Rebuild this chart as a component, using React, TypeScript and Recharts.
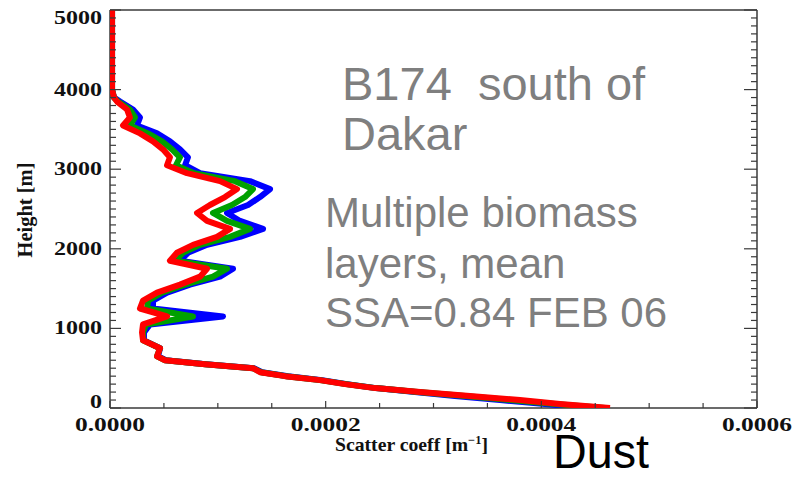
import { ScatterChart, Scatter, XAxis, YAxis } from 'recharts';

// height levels of the profile [m], top to bottom
const heights = [
  5000, 4500, 4000, 3900, 3850, 3750, 3650, 3550, 3450, 3350,
  3250, 3150, 3050, 2950, 2850, 2750, 2650, 2550, 2450, 2350,
  2250, 2150, 2050, 1950, 1850, 1750, 1650, 1550, 1450, 1350,
  1250, 1150, 1050, 950, 850, 750, 650, 600, 550, 500,
  450, 400, 350, 300, 250, 200, 150, 100, 50, 0,
];

// scatter coefficient [m^-1]
const blueCoeff = [
  1.9e-6, 1.9e-6, 1.9e-6, 3.7e-6, 9.3e-6, 21.3e-6, 27.8e-6, 25.0e-6, 43.6e-6, 55.6e-6,
  64.9e-6, 72.3e-6, 69.6e-6, 83.5e-6, 129.8e-6, 148.4e-6, 139.1e-6, 128.0e-6, 108.5e-6, 120.6e-6,
  141.9e-6, 120.6e-6, 90.0e-6, 72.3e-6, 64.9e-6, 114.1e-6, 102.0e-6, 74.2e-6, 52.9e-6, 39.9e-6,
  39.9e-6, 104.8e-6, 37.1e-6, 31.5e-6, 31.5e-6, 46.4e-6, 44.5e-6, 51.9e-6, 89.0e-6, 133.5e-6,
  141.0e-6, 165.1e-6, 196.6e-6, 219.8e-6, 246.7e-6, 282.8e-6, 319.9e-6, 361.7e-6, 403.4e-6, 445.1e-6,
];

const greenCoeff = [
  1.9e-6, 1.9e-6, 1.9e-6, 3.7e-6, 7.4e-6, 18.5e-6, 23.2e-6, 18.5e-6, 35.2e-6, 48.2e-6,
  57.5e-6, 64.9e-6, 61.2e-6, 77.9e-6, 115.9e-6, 132.6e-6, 125.2e-6, 113.1e-6, 95.5e-6, 108.5e-6,
  129.8e-6, 111.3e-6, 83.5e-6, 67.7e-6, 60.3e-6, 108.5e-6, 95.5e-6, 69.6e-6, 48.2e-6, 35.2e-6,
  34.3e-6, 77.0e-6, 33.4e-6, 30.6e-6, 30.6e-6, 46.4e-6, 43.6e-6, 51.0e-6, 88.1e-6, 132.6e-6,
  140.0e-6, 163.2e-6, 194.7e-6, 218.9e-6, 246.7e-6, 285.6e-6, 329.2e-6, 370.9e-6, 412.7e-6, 459.0e-6,
];

const redCoeff = [
  1.9e-6, 1.9e-6, 1.9e-6, 3.7e-6, 6.5e-6, 15.8e-6, 18.5e-6, 12.1e-6, 27.8e-6, 39.9e-6,
  49.1e-6, 55.6e-6, 52.9e-6, 71.4e-6, 102.0e-6, 117.8e-6, 106.6e-6, 92.7e-6, 80.7e-6, 90.0e-6,
  111.3e-6, 99.2e-6, 77.0e-6, 62.1e-6, 55.6e-6, 90.0e-6, 83.5e-6, 64.9e-6, 43.6e-6, 30.6e-6,
  27.8e-6, 52.9e-6, 30.6e-6, 29.7e-6, 30.6e-6, 46.4e-6, 43.6e-6, 51.0e-6, 88.1e-6, 132.6e-6,
  139.1e-6, 162.3e-6, 194.7e-6, 217.9e-6, 245.8e-6, 287.5e-6, 333.8e-6, 380.2e-6, 417.3e-6, 463.7e-6,
];

const xMajorTicks = [0, 0.0002, 0.0004, 0.0006];
const yMajorTicks = [0, 1000, 2000, 3000, 4000, 5000];
const xMinorStep = 0.00005;
const yMinorStep = 100;

const xTicks = Array.from({ length: 13 }, (_, i) => +(i * xMinorStep).toFixed(5));
const yTicks = Array.from({ length: 51 }, (_, i) => i * yMinorStep);

const toPoints = (vals: number[]) => vals.map((v, i) => ({ x: v, y: heights[i] }));

const AXIS = '#3a3a3a';
const SERIF = "'Liberation Serif', 'DejaVu Serif', serif";
const SANS = "'Liberation Sans', Arial, sans-serif";

const isMajorX = (v: number) => xMajorTicks.some((m) => Math.abs(m - v) < 1e-9);
const isMajorY = (v: number) => yMajorTicks.includes(v);

function LeftTick({ x, y, payload }: any) {
  const v = payload.value;
  const major = isMajorY(v);
  const shift = v === 5000 ? 8 : v === 0 ? -6 : 0; // edge labels sit inside
  return (
    <g>
      <line x1={x} x2={x + (major ? 11 : 6)} y1={y} y2={y} stroke={AXIS} strokeWidth={1.2} />
      {major && (
        <text x={x - 8} y={y + shift + 6} textAnchor="end" fontFamily={SERIF} fontWeight="bold"
          fontSize={19} fill="#111" textLength={String(v).length * 12} lengthAdjust="spacingAndGlyphs">
          {v}
        </text>
      )}
    </g>
  );
}

function BottomTick({ x, y, payload }: any) {
  const v = payload.value;
  const major = isMajorX(v);
  return (
    <g>
      <line x1={x} x2={x} y1={y} y2={y - (major ? 7 : 5)} stroke={AXIS} strokeWidth={1.2} />
      {major && (
        <text x={x} y={y + 23} textAnchor="middle" fontFamily={SERIF} fontWeight="bold"
          fontSize={18} fill="#111" textLength={70} lengthAdjust="spacingAndGlyphs">
          {v.toFixed(4)}
        </text>
      )}
    </g>
  );
}

function TopTick({ x, y, payload }: any) {
  const major = isMajorX(payload.value);
  return <line x1={x} x2={x} y1={y} y2={y + (major ? 7 : 5)} stroke={AXIS} strokeWidth={1.2} />;
}

function RightTick({ x, y, payload }: any) {
  const major = isMajorY(payload.value);
  return <line x1={x} x2={x - (major ? 13 : 6)} y1={y} y2={y} stroke={AXIS} strokeWidth={1.2} />;
}

const seriesList = [
  { name: 'blue', color: '#0000ff', data: blueCoeff },
  { name: 'green', color: '#00a000', data: greenCoeff },
  { name: 'red', color: '#ff0000', data: redCoeff },
];

const grayText = { fontFamily: SANS, fill: '#7f7f7f' };

export default function App() {
  return (
    <div style={{ position: 'absolute', left: 0, top: 0, width: 796, height: 480, background: '#fff' }}>
      <ScatterChart width={796} height={480} margin={{ top: 9, right: 38, bottom: 71, left: 109 }}>
        <XAxis type="number" dataKey="x" domain={[0, 0.0006]} ticks={xTicks} interval={0}
          allowDataOverflow height={1} tickSize={0} tickMargin={0} tickLine={false}
          axisLine={{ stroke: AXIS, strokeWidth: 1.5 }} tick={(p: any) => <BottomTick {...p} />} />
        <XAxis xAxisId="top" orientation="top" type="number" domain={[0, 0.0006]} ticks={xTicks}
          interval={0} allowDataOverflow height={1} tickSize={0} tickMargin={0} tickLine={false}
          axisLine={{ stroke: AXIS, strokeWidth: 1.5 }} tick={(p: any) => <TopTick {...p} />} />
        <YAxis type="number" dataKey="y" domain={[0, 5000]} ticks={yTicks} interval={0}
          allowDataOverflow width={1} tickSize={0} tickMargin={0} tickLine={false}
          axisLine={{ stroke: AXIS, strokeWidth: 1.5 }} tick={(p: any) => <LeftTick {...p} />} />
        <YAxis yAxisId="right" orientation="right" type="number" domain={[0, 5000]} ticks={yTicks}
          interval={0} allowDataOverflow width={1} tickSize={0} tickMargin={0} tickLine={false}
          axisLine={{ stroke: AXIS, strokeWidth: 1.5 }} tick={(p: any) => <RightTick {...p} />} />
        {seriesList.map((s) => (
          <Scatter key={s.name} name={s.name} data={toPoints(s.data)} fill={s.color}
            line={{ stroke: s.color, strokeWidth: 6, strokeLinejoin: 'round' }}
            shape={() => <g />} isAnimationActive={false} />
        ))}
      </ScatterChart>
      <svg width={796} height={480} style={{ position: 'absolute', left: 0, top: 0, pointerEvents: 'none' }}>
        <text x={32} y={210} transform="rotate(-90 32 210)" textAnchor="middle" fontFamily={SERIF}
          fontWeight="bold" fontSize={22} fill="#111" textLength={95} lengthAdjust="spacingAndGlyphs">
          Height [m]
        </text>
        <text x={335} y={451} fontFamily={SERIF} fontWeight="bold" fontSize={19} fill="#111"
          textLength={153} lengthAdjust="spacingAndGlyphs">
          Scatter coeff [m<tspan dy={-7} fontSize={12}>−1</tspan><tspan dy={7}>]</tspan>
        </text>
        <text x={342} y={100} fontSize={47} style={{ whiteSpace: 'pre' }} {...grayText}>B174  south of</text>
        <text x={342} y={150} fontSize={47} {...grayText}>Dakar</text>
        <text x={325} y={227} fontSize={42} {...grayText}>Multiple biomass</text>
        <text x={325} y={278} fontSize={42} {...grayText}>layers, mean</text>
        <text x={325} y={327} fontSize={42} {...grayText}>SSA=0.84 FEB 06</text>
        <text x={553} y={468} fontSize={48} fontFamily={SANS} fill="#000" textLength={96}
          lengthAdjust="spacingAndGlyphs">Dust</text>
      </svg>
    </div>
  );
}
